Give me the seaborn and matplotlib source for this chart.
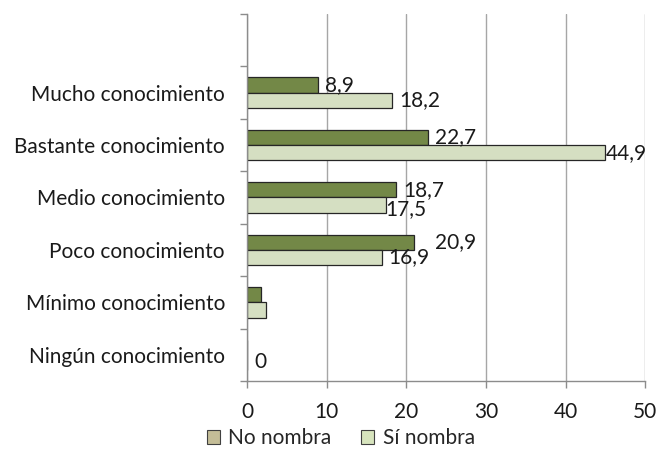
import matplotlib
matplotlib.use("Agg")
import matplotlib.pyplot as plt
from matplotlib.patches import Patch
from matplotlib.ticker import FixedLocator
import seaborn as sns
import pandas as pd

categories = [
    "Mucho conocimiento",
    "Bastante conocimiento",
    "Medio conocimiento",
    "Poco conocimiento",
    "Mínimo conocimiento",
    "Ningún conocimiento",
]
series_names = ["No nombra", "Sí nombra"]
no_nombra = [8.9, 22.7, 18.7, 20.9, 1.8, 0.0]
si_nombra = [18.2, 44.9, 17.5, 16.9, 2.4, 0.0]
no_nombra_labels = ["8,9", "22,7", "18,7", "20,9", None, None]
si_nombra_labels = ["18,2", "44,9", "17,5", "16,9", None, "0"]
x_ticks = [0, 10, 20, 30, 40, 50]

sns.set_theme(style="white")
plt.rcParams["font.family"] = ["Lato", "DejaVu Sans"]

FS = 15

df = pd.DataFrame({
    "categoria": categories * 2,
    "serie": [series_names[0]] * len(categories) + [series_names[1]] * len(categories),
    "valor": no_nombra + si_nombra,
})

bar_colors = {"No nombra": "#77933c", "Sí nombra": "#d7e4bd"}
legend_colors = {"No nombra": "#c4bd97", "Sí nombra": "#d7e4bd"}

fig = plt.figure(figsize=(6.59, 4.59), dpi=100)
ax = fig.add_axes([0.375, 0.170, 0.604, 0.7995])

sns.barplot(
    data=df, y="categoria", x="valor", hue="serie",
    order=categories, hue_order=series_names,
    palette=bar_colors, orient="h", width=0.58, gap=0,
    edgecolor="#262626", linewidth=0.9, legend=False, ax=ax,
)

# data labels at the end of each bar (offsets in pixels)
label_offsets = {
    ("No nombra", 3): 21,
    ("Sí nombra", 1): 1,
    ("Sí nombra", 2): -1,
}
label_dy = {("Sí nombra", 2): -4}
for cont, name, labels in zip(ax.containers, series_names,
                              [no_nombra_labels, si_nombra_labels]):
    for i, (bar, lab) in enumerate(zip(cont.patches, labels)):
        if lab is None:
            continue
        dx = label_offsets.get((name, i), 7)
        dy = label_dy.get((name, i), 0)
        ax.annotate(
            lab, (bar.get_width(), bar.get_y() + bar.get_height() / 2),
            xytext=(dx * 0.72, dy * 0.72), textcoords="offset points",
            ha="left", va="center", fontsize=FS, color="#1a1a1a",
        )

ax.set_xlim(0, 50)
ax.set_ylim(len(categories) - 0.5, -1.5)
ax.xaxis.set_major_locator(FixedLocator(x_ticks))
ax.set_xticklabels([str(t) for t in x_ticks])
ax.set_xlabel("")
ax.set_ylabel("")

# category labels at centers, tick marks at slot boundaries
ax.yaxis.set_minor_locator(FixedLocator([k - 0.5 for k in range(-1, len(categories) + 1)]))
ax.tick_params(axis="y", which="major", length=0, pad=16, labelsize=FS, labelcolor="#1a1a1a")
ax.tick_params(axis="y", which="minor", left=True, length=5, width=1, color="#8c8c8c", direction="out")
ax.tick_params(axis="x", which="major", bottom=True, length=5, width=1, color="#8c8c8c",
               direction="out", pad=10, labelsize=FS, labelcolor="#1a1a1a")

ax.grid(axis="x", color="#a6a6a6", linewidth=1)
ax.grid(axis="y", visible=False)
ax.set_axisbelow(True)
for side in ["top", "right"]:
    ax.spines[side].set_visible(False)
for side in ["left", "bottom"]:
    ax.spines[side].set_color("#8c8c8c")
    ax.spines[side].set_linewidth(1)

handles = [Patch(facecolor=legend_colors[n], edgecolor="#404040", linewidth=0.8, label=n)
           for n in series_names]
fig.legend(handles=handles, loc="center", bbox_to_anchor=(0.517, 0.045), ncol=2,
           frameon=False, fontsize=FS, handlelength=0.65, handleheight=0.65,
           handletextpad=0.4, columnspacing=1.4)

fig.savefig("out.png", dpi=100)
